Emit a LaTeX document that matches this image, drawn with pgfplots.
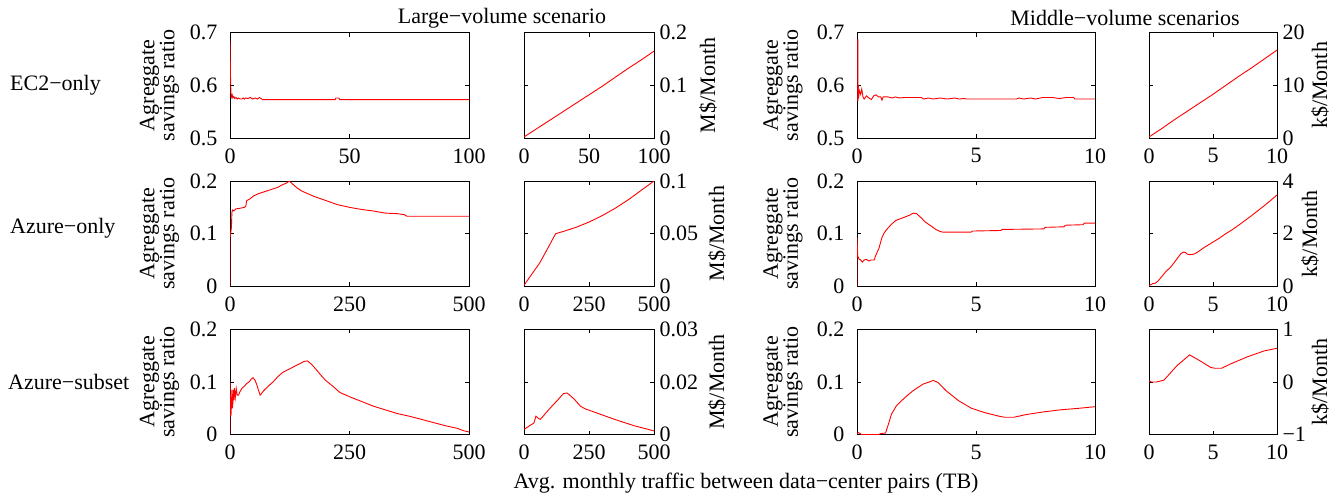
\documentclass[border=0pt]{standalone}
\usepackage{fontspec}
\setmainfont{Liberation Serif}
\usepackage{pgfplots}
\pgfplotsset{compat=1.18}
\pgfplotsset{
  base/.style={scale only axis, axis line style={line width=1pt}, tick align=inside,
    major tick length=4pt, every tick/.style={black, line width=0.8pt},
    scaled x ticks=false, scaled y ticks=false,
    xticklabel style={yshift=-3pt}, clip=true},
  L/.style={base, width=239pt, height=105.3pt,
    ylabel={Agreggate\\savings ratio},
    ylabel style={align=center, font=\fontsize{22}{20}\selectfont, at={(axis description cs:-0.295,0.5)}, anchor=center},
    yticklabel style={xshift=-5pt}},
  R/.style={base, width=130pt, height=105.3pt, yticklabel pos=right,
    yticklabel style={xshift=-2pt}},
  R4/.style={base, width=128pt, height=105.3pt, yticklabel pos=right,
    yticklabel style={xshift=-2pt}},
  dat/.style={red, line width=0.9pt}
}
\begin{document}
\fontsize{22}{26}\selectfont
\begin{tikzpicture}
\useasboundingbox (0,0) rectangle (1343pt,-498pt);
\node at (502pt,-18pt) {Large−volume scenario};
\node at (1125pt,-18pt) {Middle−volume scenarios};
\node[anchor=west, inner sep=0pt] at (10pt,-85pt) {EC2−only};
\node[anchor=west, inner sep=0pt] at (10pt,-228pt) {Azure−only};
\node[anchor=west, inner sep=0pt] at (8pt,-382pt) {Azure−subset};
\node at (746pt,-483pt) {Avg. monthly traffic between data−center pairs (TB)};
\node[rotate=90] at (708pt,-85.35pt) {M\$/Month};
\node[rotate=90] at (717pt,-233.65pt) {M\$/Month};
\node[rotate=90] at (717pt,-381.95pt) {M\$/Month};
\node[rotate=90] at (1320pt,-85.35pt) {k\$/Month};
\node[rotate=90] at (1310pt,-233.65pt) {k\$/Month};
\node[rotate=90] at (1320pt,-381.95pt) {k\$/Month};

% ---------- Row 1 ----------
\begin{axis}[L, at={(230pt,-32.7pt)}, anchor=north west,
  xmin=0, xmax=100, ymin=0.5, ymax=0.7,
  xtick={0,50,100}, xticklabels={0,50,100},
  ytick={0.5,0.6,0.7}, yticklabels={0.5,0.6,0.7}]
\addplot[dat] coordinates {(0,0.686) (0.2,0.62) (0.3,0.6) (0.4,0.585) (0.6,0.578) (0.9,0.582) (1.2,0.576) (1.6,0.579) (2,0.575) (2.5,0.577) (3,0.574) (3.5,0.576) (4.2,0.574) (5,0.574) (5.5,0.576) (6,0.574) (6.5,0.576) (7.5,0.575) (8.5,0.577) (9.5,0.574) (10.5,0.576) (11.5,0.574) (12.3,0.577) (13,0.575) (13.6,0.573) (44,0.573) (44.3,0.576) (45.6,0.576) (45.9,0.573) (100,0.573)};
\end{axis}

\begin{axis}[R, at={(524pt,-32.7pt)}, anchor=north west,
  xmin=0, xmax=100, ymin=0, ymax=0.2,
  xtick={0,50,100}, xticklabels={0,50,100},
  ytick={0,0.1,0.2}, yticklabels={0,0.1,0.2}]
\addplot[dat] coordinates {(0,0.002) (10,0.018) (20,0.034) (30,0.05) (40,0.066) (50,0.082) (60,0.098) (70,0.115) (80,0.132) (90,0.148) (100,0.165)};
\end{axis}

\begin{axis}[L, at={(857pt,-32.7pt)}, anchor=north west, width=238pt,
  ylabel style={at={(axis description cs:-0.311,0.5)}},
  xmin=0, xmax=10, ymin=0.5, ymax=0.7,
  xtick={0,5,10}, xticklabels={0,5,10},
  ytick={0.5,0.6,0.7}, yticklabels={0.5,0.6,0.7}]
\addplot[red!80!black, line width=1.2pt] coordinates {(0.01,0.57) (0.01,0.686) (0.03,0.686) (0.03,0.57) (0.05,0.6)};
\addplot[dat] coordinates {(0.05,0.6) (0.06,0.575) (0.1,0.59) (0.15,0.583) (0.2,0.593) (0.25,0.578) (0.3,0.574) (0.4,0.58) (0.5,0.576) (0.6,0.573) (0.7,0.58) (0.8,0.582) (0.9,0.578) (1.0,0.578) (1.05,0.572) (1.1,0.578) (1.3,0.578) (1.5,0.576) (1.6,0.578) (1.8,0.576) (2.0,0.577) (2.7,0.577) (2.8,0.574) (3.0,0.576) (3.2,0.574) (3.5,0.576) (3.8,0.574) (4.1,0.576) (4.3,0.574) (4.5,0.575) (4.6,0.574) (6.7,0.574) (6.8,0.576) (7.0,0.574) (7.3,0.576) (7.5,0.574) (7.8,0.577) (8.2,0.577) (8.5,0.575) (8.8,0.577) (9.1,0.577) (9.15,0.574) (10,0.574)};
\end{axis}

\begin{axis}[R4, at={(1149pt,-32.7pt)}, anchor=north west,
  xmin=0, xmax=10, ymin=0, ymax=20,
  xtick={0,5,10}, xticklabels={0,5,10},
  ytick={0,10,20}, yticklabels={0,10,20}]
\addplot[dat] coordinates {(0,0.2) (1,1.8) (2,3.5) (3,5.1) (4,6.7) (5,8.3) (6,10) (7,11.7) (8,13.3) (9,15) (10,16.7)};
\end{axis}

% ---------- Row 2 ----------
\begin{axis}[L, at={(230pt,-181pt)}, anchor=north west,
  xmin=0, xmax=500, ymin=0, ymax=0.2,
  xtick={0,250,500}, xticklabels={0,250,500},
  ytick={0,0.1,0.2}, yticklabels={0,0.1,0.2}]
\addplot[dat] coordinates {(0,0) (0,0.1) (1,0.098) (2,0.105) (3,0.112) (4,0.14) (5,0.145) (8,0.143) (12,0.147) (20,0.148) (30,0.15) (33,0.152) (35,0.163) (40,0.165) (50,0.172) (60,0.176) (70,0.179) (80,0.182) (90,0.185) (100,0.188) (110,0.193) (118,0.196) (124,0.2) (130,0.195) (140,0.187) (150,0.181) (175,0.171) (200,0.163) (225,0.155) (250,0.15) (275,0.146) (300,0.143) (325,0.139) (350,0.138) (365,0.136) (370,0.133) (500,0.133)};
\end{axis}

\begin{axis}[R, at={(524pt,-181pt)}, anchor=north west,
  xmin=0, xmax=500, ymin=0, ymax=0.1,
  xtick={0,250,500}, xticklabels={0,250,500},
  ytick={0,0.05,0.1}, yticklabels={0,0.05,0.1}]
\addplot[dat] coordinates {(0,0.001) (20,0.008) (40,0.015) (60,0.022) (80,0.031) (100,0.04) (115,0.047) (122,0.05) (150,0.052) (200,0.056) (250,0.061) (300,0.067) (350,0.074) (400,0.082) (450,0.091) (500,0.1)};
\end{axis}

\begin{axis}[L, at={(857pt,-181pt)}, anchor=north west, width=238pt,
  ylabel style={at={(axis description cs:-0.311,0.5)}},
  xmin=0, xmax=10, ymin=0, ymax=0.2,
  xtick={0,5,10}, xticklabels={0,5,10},
  ytick={0,0.1,0.2}, yticklabels={0,0.1,0.2}]
\addplot[dat] coordinates {(0,0) (0,0.093) (0.03,0.058) (0.08,0.052) (0.15,0.05) (0.22,0.046) (0.3,0.05) (0.4,0.051) (0.5,0.048) (0.6,0.05) (0.72,0.05) (0.78,0.058) (0.85,0.065) (0.92,0.072) (1.0,0.085) (1.06,0.094) (1.15,0.102) (1.27,0.109) (1.45,0.118) (1.63,0.125) (1.8,0.128) (1.98,0.131) (2.2,0.135) (2.37,0.139) (2.5,0.138) (2.7,0.13) (2.87,0.122) (3.1,0.115) (3.31,0.108) (3.5,0.104) (3.6,0.103) (4.8,0.103) (4.85,0.105) (6.05,0.106) (6.1,0.108) (7.85,0.109) (7.9,0.112) (8.7,0.113) (8.75,0.116) (9.5,0.117) (9.55,0.12) (10,0.12)};
\end{axis}

\begin{axis}[R4, at={(1149pt,-181pt)}, anchor=north west,
  xmin=0, xmax=10, ymin=0, ymax=4,
  xtick={0,5,10}, xticklabels={0,5,10},
  ytick={0,2,4}, yticklabels={0,2,4}]
\addplot[dat] coordinates {(0,0.03) (0.3,0.1) (0.5,0.12) (0.7,0.2) (1,0.37) (1.3,0.55) (1.67,0.72) (2,0.92) (2.3,1.12) (2.5,1.25) (2.7,1.3) (2.85,1.28) (3,1.22) (3.2,1.2) (3.5,1.22) (3.8,1.3) (4.3,1.47) (5,1.68) (5.5,1.83) (6,2.0) (6.5,2.15) (7,2.32) (7.5,2.5) (8,2.68) (8.5,2.87) (9,3.06) (9.5,3.26) (10,3.47)};
\end{axis}

% ---------- Row 3 ----------
\begin{axis}[L, at={(230pt,-329.3pt)}, anchor=north west,
  xmin=0, xmax=500, ymin=0, ymax=0.2,
  xtick={0,250,500}, xticklabels={0,250,500},
  ytick={0,0.1,0.2}, yticklabels={0,0.1,0.2}]
\addplot[dat] coordinates {(0,0) (0,0.102) (1,0.06) (2,0.035) (3,0.055) (4,0.085) (5,0.05) (6,0.06) (7,0.085) (8,0.065) (9,0.088) (11,0.07) (13,0.088) (15,0.075) (18,0.075) (20,0.08) (25,0.088) (30,0.092) (35,0.097) (40,0.1) (45,0.106) (48,0.108) (52,0.104) (56,0.095) (59,0.086) (63,0.075) (66,0.078) (70,0.083) (80,0.092) (90,0.1) (100,0.11) (110,0.118) (125,0.125) (140,0.132) (155,0.139) (162,0.14) (170,0.134) (180,0.124) (190,0.113) (200,0.103) (215,0.092) (230,0.08) (250,0.072) (275,0.063) (300,0.054) (325,0.047) (350,0.04) (375,0.035) (400,0.029) (425,0.023) (450,0.017) (475,0.012) (490,0.007) (500,0.005)};
\end{axis}

\begin{axis}[R, at={(524pt,-329.3pt)}, anchor=north west,
  xmin=0, xmax=500, ymin=0.01, ymax=0.03,
  xtick={0,250,500}, xticklabels={0,250,500},
  ytick={0.01,0.02,0.03}, yticklabels={0,0.02,0.03}]
\addplot[dat] coordinates {(0,0.011) (38,0.0122) (46,0.0135) (55,0.0131) (63,0.0129) (98,0.0149) (132,0.0167) (152,0.0178) (166,0.0179) (192,0.0168) (217,0.0154) (235,0.0149) (286,0.014) (354,0.0128) (423,0.0117) (500,0.0107)};
\end{axis}

\begin{axis}[L, at={(857pt,-329.3pt)}, anchor=north west, width=238pt,
  ylabel style={at={(axis description cs:-0.311,0.5)}},
  xmin=0, xmax=10, ymin=0, ymax=0.2,
  xtick={0,5,10}, xticklabels={0,5,10},
  ytick={0,0.1,0.2}, yticklabels={0,0.1,0.2}]
\addplot[dat] coordinates {(0,0.002) (0.05,0.004) (0.2,0) (0.9,0) (1.0,0.002) (1.2,0.003) (1.25,0.01) (1.3,0.017) (1.45,0.039) (1.66,0.055) (1.98,0.069) (2.34,0.083) (2.78,0.096) (3.1,0.101) (3.2,0.103) (3.3,0.101) (3.4,0.099) (3.75,0.083) (4.28,0.064) (4.81,0.05) (5.35,0.042) (5.96,0.035) (6.2,0.033) (6.6,0.033) (7.1,0.038) (7.82,0.043) (8.53,0.047) (9.33,0.05) (10,0.053)};
\end{axis}

\begin{axis}[R4, at={(1149pt,-329.3pt)}, anchor=north west,
  xmin=0, xmax=10, ymin=-1, ymax=1,
  xtick={0,5,10}, xticklabels={0,5,10},
  ytick={-1,0,1}, yticklabels={−1,0,1}]
\addplot[dat] coordinates {(0,0.02) (0.17,0) (0.6,0) (1.17,0.035) (2.17,0.306) (3.17,0.514) (4,0.4) (4.83,0.274) (5.17,0.26) (5.67,0.26) (6.33,0.338) (7.67,0.476) (9,0.59) (10,0.64)};
\end{axis}
\end{tikzpicture}
\end{document}
